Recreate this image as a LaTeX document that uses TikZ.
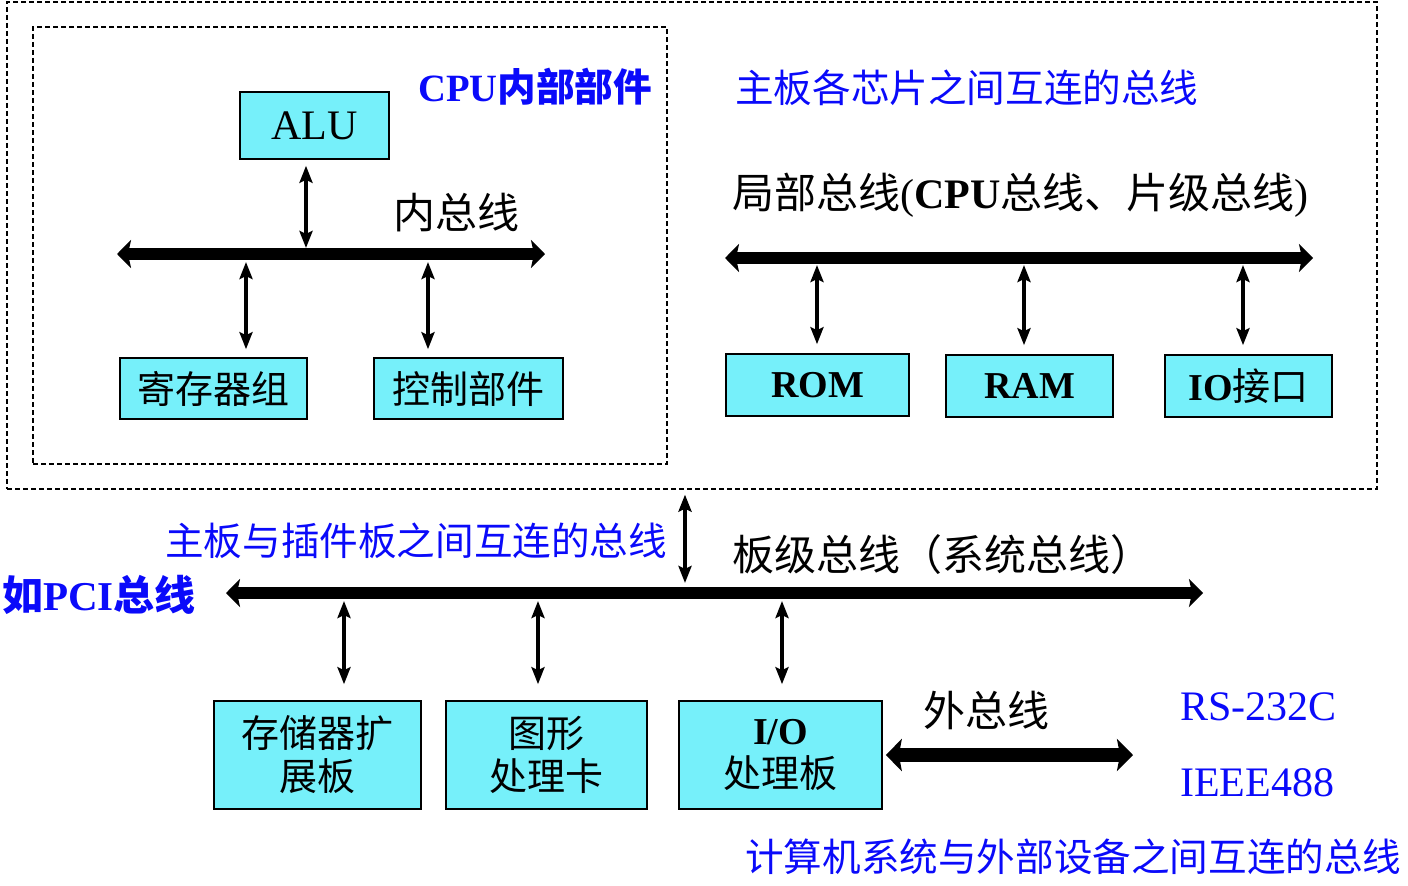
\documentclass[tikz,border=0pt]{standalone}
\usepackage{fontspec}
\setmainfont{Liberation Serif}
\newfontfamily\cjk{Noto Sans CJK SC}
\usetikzlibrary{arrows.meta}
\definecolor{boxcyan}{RGB}{118,240,250}
\definecolor{labelblue}{RGB}{10,10,250}
\newcommand{\fs}[1]{\fontsize{#1}{#1}\selectfont}
\tikzset{
  unitbox/.style={draw=black, line width=1.6pt, fill=boxcyan, inner sep=0pt, align=center, font=\fs{38}},
  frame/.style={draw=black, line width=1.2pt, dash pattern=on 5pt off 3pt, inner sep=0pt},
  bus/.style={line width=12pt, {Stealth[length=14pt,width=28pt,inset=3pt]}-{Stealth[length=14pt,width=28pt,inset=3pt]}},
  extbus/.style={line width=14pt, {Stealth[length=16pt,width=32pt,inset=3pt]}-{Stealth[length=16pt,width=32pt,inset=3pt]}},
  link/.style={line width=4.5pt, {Stealth[length=17pt,width=13pt,inset=3pt]}-{Stealth[length=17pt,width=13pt,inset=3pt]}},
  txt/.style={anchor=west, inner sep=0pt},
  blabel/.style={txt, text=labelblue},
}
\begin{document}
\begin{tikzpicture}[x=1pt,y=-1pt]
\useasboundingbox (0,0) rectangle (1408,886);

% dashed frames: main board and CPU
\node[frame, minimum width=1370pt, minimum height=487pt] (board) at (692,245.5) {};
\node[frame, minimum width=634pt, minimum height=437pt] (cpu) at (350,245.5) {};

% ---- CPU internal units ----
\node[unitbox, font=\fs{42}, minimum width=149pt, minimum height=67pt] (alu) at (314.5,125.5) {ALU};
\node[unitbox, minimum width=187pt, minimum height=61pt] (reg) at (213.5,388.5) {\cjk 寄存器组};
\node[unitbox, minimum width=189pt, minimum height=61pt] (ctl) at (468.5,388.5) {\cjk 控制部件};

\coordinate (ibL) at (117,254);
\coordinate (ibR) at (545,254);
\draw[bus] (ibL) -- (ibR);
\coordinate (iA) at (306,254);
\coordinate (iB) at (246,254);
\coordinate (iC) at (428,254);
\draw[link, shorten <=6pt, shorten >=6pt] (alu.south -| iA) -- (iA);
\draw[link, shorten <=8pt, shorten >=8pt] (iB) -- (reg.north -| iB);
\draw[link, shorten <=8pt, shorten >=8pt] (iC) -- (ctl.north -| iC);

\node[blabel, font=\fs{38.6}\bfseries] (cpulbl) at (418,87) {CPU{\cjk 内部部件}};
\node[txt, font=\fs{42}] (inbus) at (393,213) {\cjk 内总线};

% ---- chips on the main board ----
\node[blabel, font=\fs{38.6}] (chiplbl) at (735,88) {\cjk 主板各芯片之间互连的总线};
\node[txt, font=\fs{42}] (localbus) at (732,195) {{\cjk 局部总线}(\textbf{CPU}{\cjk 总线、片级总线})};

\node[unitbox, font=\fs{38}\bfseries, minimum width=183pt, minimum height=62pt] (rom) at (817.5,385) {ROM};
\node[unitbox, font=\fs{38}\bfseries, minimum width=167pt, minimum height=62pt] (ram) at (1029.5,386) {RAM};
\node[unitbox, minimum width=167pt, minimum height=62pt] (io) at (1248.5,386) {\textbf{IO}{\cjk 接口}};

\coordinate (lbL) at (725,258);
\coordinate (lbR) at (1313,258);
\draw[bus] (lbL) -- (lbR);
\coordinate (lA) at (817,258);
\coordinate (lB) at (1024,258);
\coordinate (lC) at (1243,258);
\draw[link, shorten <=7pt, shorten >=9pt] (lA) -- (rom.north -| lA);
\draw[link, shorten <=7pt, shorten >=9pt] (lB) -- (ram.north -| lB);
\draw[link, shorten <=7pt, shorten >=9pt] (lC) -- (io.north -| lC);

% ---- system bus ----
\coordinate (sbL) at (226,593);
\coordinate (sbR) at (1203,593);
\draw[bus] (sbL) -- (sbR);
\coordinate (sM) at (685,593);
\draw[link, shorten <=5pt, shorten >=10pt] (board.south -| sM) -- (sM);

\node[blabel, font=\fs{38.6}] (cardlbl) at (165,541) {\cjk 主板与插件板之间互连的总线};
\node[txt, font=\fs{42}] (sysbus) at (732,555) {\cjk 板级总线（系统总线）};
\node[blabel, font=\fs{41}\bfseries] (pcilbl) at (2,595) {{\cjk 如}PCI{\cjk 总线}};

\node[unitbox, minimum width=207pt, minimum height=108pt] (mem) at (317.5,755) {\cjk 存储器扩\\[5pt]\cjk 展板};
\node[unitbox, minimum width=201pt, minimum height=108pt] (gfx) at (546.5,755) {\cjk 图形\\[5pt]\cjk 处理卡};
\node[unitbox, minimum width=203pt, minimum height=108pt] (iob) at (780.5,755) {\textbf{I/O}\\[5pt]\cjk 处理板};

\coordinate (sA) at (344,593);
\coordinate (sB) at (538,593);
\coordinate (sC) at (782,593);
\draw[link, shorten <=8pt, shorten >=16pt] (sA) -- (mem.north -| sA);
\draw[link, shorten <=8pt, shorten >=16pt] (sB) -- (gfx.north -| sB);
\draw[link, shorten <=8pt, shorten >=16pt] (sC) -- (iob.north -| sC);

% ---- external bus ----
\coordinate (ebR) at (1133,755);
\draw[extbus, shorten <=3pt] (iob.east |- ebR) -- (ebR);
\node[txt, font=\fs{42}] (extlbl) at (923,710) {\cjk 外总线};
\node[blabel, font=\fs{42}] (rs) at (1180,707) {RS-232C};
\node[blabel, font=\fs{42}] (ieee) at (1180,783) {IEEE488};
\node[blabel, font=\fs{38.6}] (extdesc) at (745,857) {\cjk 计算机系统与外部设备之间互连的总线};
\end{tikzpicture}
\end{document}
